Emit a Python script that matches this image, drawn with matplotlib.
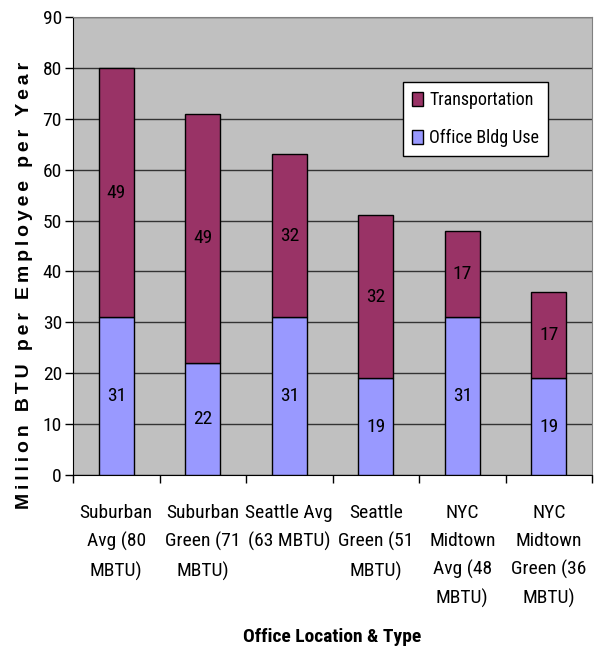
import numpy as np
import matplotlib.pyplot as plt
from matplotlib import font_manager as fm

# pick a narrow face if one is installed, the original looks like Arial Narrow
names = {f.name for f in fm.fontManager.ttflist}
narrow = None
for n in ['Liberation Sans Narrow', 'Roboto Condensed', 'Open Sans Condensed', 'DejaVu Sans Condensed']:
    if n in names:
        narrow = n
        break
stretch = 'normal'
if narrow is None:
    cond = [f.name for f in fm.fontManager.ttflist if f.stretch in ('condensed', 'semi-condensed', 'extra-condensed')]
    if cond:
        narrow = cond[0]
        stretch = 'condensed'
    else:
        narrow = 'Liberation Sans'

plt.rcParams['font.family'] = [narrow, 'DejaVu Sans']
plt.rcParams['font.stretch'] = stretch

# data
categories = ['Suburban\nAvg (80\nMBTU)', 'Suburban\nGreen (71\nMBTU)', 'Seattle Avg\n(63 MBTU)',
              'Seattle\nGreen (51\nMBTU)', 'NYC\nMidtown\nAvg (48\nMBTU)', 'NYC\nMidtown\nGreen (36\nMBTU)']
office_use = [31, 22, 31, 19, 31, 19]
transport = [49, 49, 32, 32, 17, 17]

fig = plt.figure(figsize=(6.01, 6.53), dpi=100)
ax = fig.add_axes([0.1215, 0.2726, 0.8636, 0.7014])
ax.set_facecolor('#C0C0C0')

x = np.arange(len(categories))
ax.bar(x, office_use, width=0.4, color='#9999FF', edgecolor='black', linewidth=1, label='Office Bldg Use', zorder=3)
ax.bar(x, transport, width=0.4, bottom=office_use, color='#993366', edgecolor='black', linewidth=1, label='Transportation', zorder=3)

for i in range(len(x)):
    ax.text(x[i], office_use[i] / 2, str(office_use[i]), ha='center', va='center', fontsize=14, zorder=4)
    ax.text(x[i], office_use[i] + transport[i] / 2, str(transport[i]), ha='center', va='center', fontsize=14, zorder=4)

ax.set_xlim(-0.5, len(x) - 0.5)
ax.set_ylim(0, 90)
ax.set_yticks(range(0, 91, 10))
ax.yaxis.grid(True, color='#333333', linewidth=1)
ax.set_axisbelow(True)
ax.tick_params(axis='y', labelsize=14, length=6, width=1, pad=2)

# ticks on category boundaries, labels at centers
ax.set_xticks(np.arange(-0.5, len(x), 1.0))
ax.set_xticklabels([])
ax.set_xticks(x, minor=True)
ax.set_xticklabels(categories, minor=True, fontsize=14, linespacing=1.68, va='top')
ax.tick_params(axis='x', which='major', length=6, width=1)
ax.tick_params(axis='x', which='minor', length=0, pad=21)

for s in ['top', 'right']:
    ax.spines[s].set_color('#808080')
for s in ['left', 'bottom']:
    ax.spines[s].set_color('black')

ax.set_xlabel('Office Location & Type', fontsize=14, fontweight='bold', labelpad=14)
ylab = '\u2009'.join('Million BTU per Employee per Year')
fig.text(0.040, 0.563, ylab, rotation=90, ha='center', va='center',
         fontsize=14, fontweight='bold', family=['Liberation Sans', 'DejaVu Sans'], stretch='normal')

h, l = ax.get_legend_handles_labels()
leg = ax.legend(h[::-1], l[::-1], loc='upper left', bbox_to_anchor=(0.636, 0.858), borderaxespad=0,
                fontsize=13, frameon=True, fancybox=False, edgecolor='black', framealpha=1,
                handlelength=0.6, handleheight=0.8, handletextpad=0.35, borderpad=0.5, labelspacing=1.1)
leg.get_frame().set_linewidth(1)

fig.savefig('out.png', dpi=100)
